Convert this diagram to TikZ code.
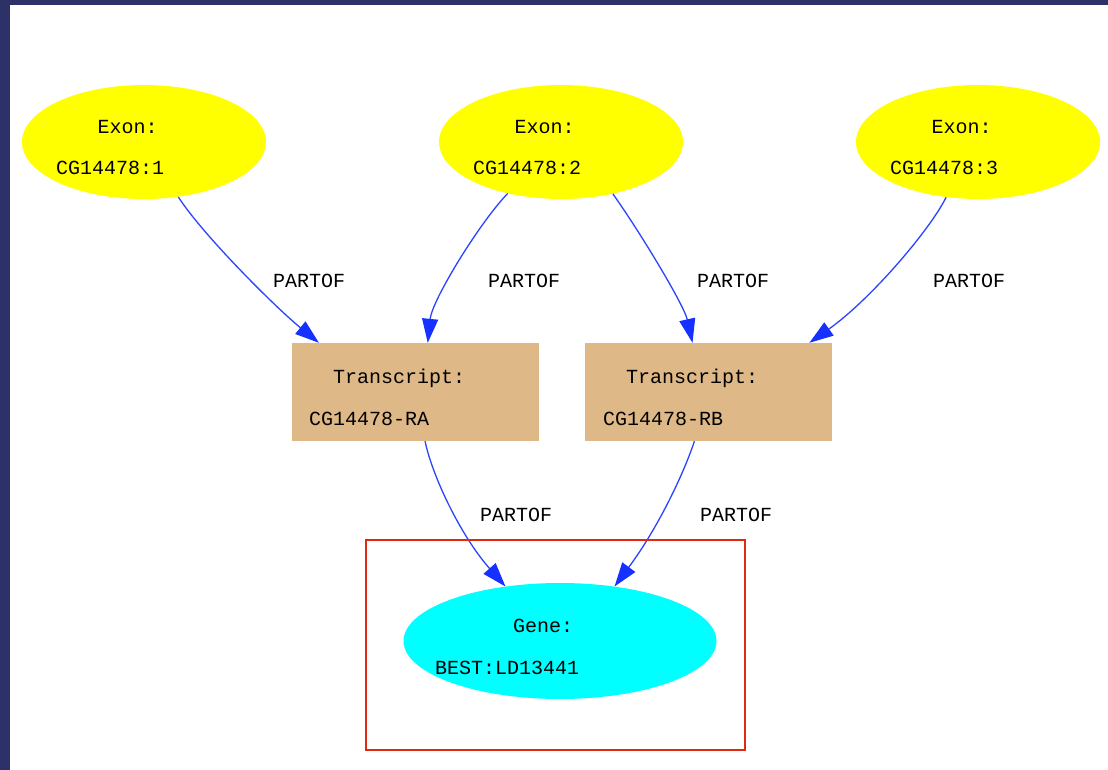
\documentclass[tikz,border=0pt]{standalone}
\usepackage{fontspec}
\setmonofont{Liberation Mono}
\usetikzlibrary{shapes.geometric,arrows.meta}
\definecolor{navy}{HTML}{2E3168}
\definecolor{edgeblue}{HTML}{2A44FF}
\definecolor{tipblue}{HTML}{1530FF}
\definecolor{tanfill}{HTML}{DEB887}
\definecolor{boxred}{HTML}{E02A10}
\definecolor{exonyellow}{HTML}{FFFF00}
\definecolor{genecyan}{HTML}{00FFFF}
\tikzset{
  exon/.style={ellipse, fill=exonyellow, minimum width=244pt, minimum height=114pt, inner sep=0pt},
  tbox/.style={rectangle, fill=tanfill, minimum width=247pt, minimum height=98pt, inner sep=0pt},
  gene/.style={ellipse, fill=genecyan, minimum width=313pt, minimum height=116pt, inner sep=0pt},
  lbl/.style={anchor=base west, inner sep=0pt, text=black, font=\ttfamily\fontsize{20pt}{24pt}\selectfont},
  rel/.style={draw=edgeblue, line width=1.3pt, -{Triangle[length=24pt,width=16pt,color=tipblue]}},
}
\begin{document}
\begin{tikzpicture}[x=1pt,y=-1pt]
\useasboundingbox (0,0) rectangle (1108,770);
\fill[white] (0,0) rectangle (1108,770);
\fill[navy] (0,0) rectangle (10,770);
\fill[navy] (0,0) rectangle (1108,5);

% nodes
\node[exon] (e1) at (144,142) {};
\node[exon] (e2) at (561,142) {};
\node[exon] (e3) at (978,142) {};
\node[tbox] (ra) at (415.5,392) {};
\node[tbox] (rb) at (708.5,392) {};
\node[gene] (gene) at (560,641) {};

% node texts
\node[lbl] (e1a) at (97.5,133.5) {Exon:};
\node[lbl] (e1b) at (56,175) {CG14478:1};
\node[lbl] (e2a) at (514.5,133.5) {Exon:};
\node[lbl] (e2b) at (473,175) {CG14478:2};
\node[lbl] (e3a) at (931.5,133.5) {Exon:};
\node[lbl] (e3b) at (890,175) {CG14478:3};
\node[lbl] (raa) at (333,383) {Transcript:};
\node[lbl] (rab) at (309,425) {CG14478-RA};
\node[lbl] (rba) at (626,383) {Transcript:};
\node[lbl] (rbb) at (603,425) {CG14478-RB};
\node[lbl] (ga) at (513,632) {Gene:};
\node[lbl] (gb) at (435,674) {BEST:LD13441};

% edges
\draw[rel] (e1.-58) .. controls (202,234) and (275,307) .. (ra.153);
\draw[rel] (e2.-136) .. controls (480,222) and (432,300) .. (ra.76);
\draw[rel] (e2.-45) .. controls (640,232) and (684,305) .. (rb.108);
\draw[rel] (e3.-120) .. controls (930,230) and (870,300) .. (rb.26);
\draw[rel] (ra.-79) .. controls (432,475) and (460,535) .. (gene.135);
\draw[rel] (rb.-106) .. controls (685,470) and (660,525) .. (gene.45);

% edge labels
\node[lbl] (p1) at (273,287) {PARTOF};
\node[lbl] (p2) at (488,287) {PARTOF};
\node[lbl] (p3) at (697,287) {PARTOF};
\node[lbl] (p4) at (933,287) {PARTOF};
\node[lbl] (p5) at (480,521) {PARTOF};
\node[lbl] (p6) at (700,521) {PARTOF};

% highlight box
\draw[boxred, line width=1.5pt] (366,540) rectangle (745,750);
\end{tikzpicture}
\end{document}
